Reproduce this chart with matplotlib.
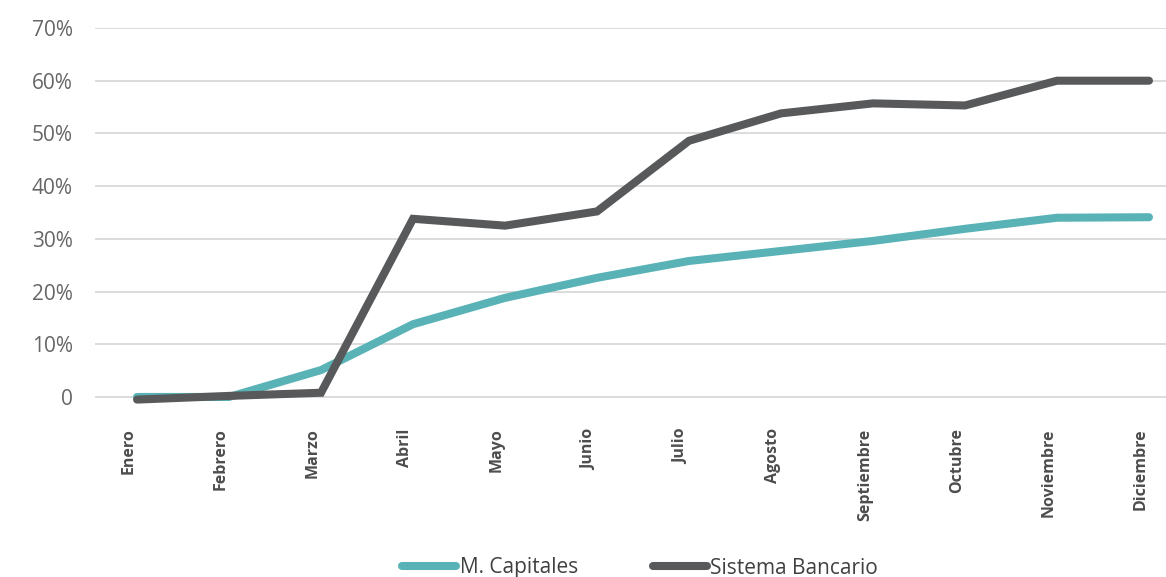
import numpy as np
import matplotlib
matplotlib.use("Agg")
import matplotlib.pyplot as plt
import matplotlib.transforms as mtransforms

plt.rcParams['font.family'] = ['Open Sans', 'DejaVu Sans']

# datos
meses = ['Enero', 'Febrero', 'Marzo', 'Abril', 'Mayo', 'Junio', 'Julio',
         'Agosto', 'Septiembre', 'Octubre', 'Noviembre', 'Diciembre']
m_capitales = [0.0, 0.0, 5.1, 13.8, 18.8, 22.6, 25.8, 27.7, 29.6, 31.9, 34.0, 34.1]
sistema_bancario = [-0.5, 0.2, 0.8, 33.8, 32.5, 35.2, 48.6, 53.8, 55.7, 55.3, 60.0, 60.0]
yticks = [0, 10, 20, 30, 40, 50, 60, 70]
ytick_labels = ['0', '10%', '20%', '30%', '40%', '50%', '60%', '70%']

teal = '#58b2b6'
gris = '#58595b'

fig = plt.figure(figsize=(11.66, 5.77), dpi=100)
ax = fig.add_axes([95 / 1166, 1 - 407.5 / 577, (1166 - 95) / 1166, (407.5 - 28) / 577])

x = np.arange(len(meses))
ax.plot(x, m_capitales, color=teal, lw=5.8, solid_capstyle='round', solid_joinstyle='miter',
        label='M. Capitales', zorder=3)
ax.plot(x, sistema_bancario, color=gris, lw=5.8, solid_capstyle='round', solid_joinstyle='miter',
        label='Sistema Bancario', zorder=4)

ax.set_xlim(-0.457, 11.185)
ax.set_ylim(-2, 70)
ax.set_yticks(yticks)
ax.set_yticklabels(ytick_labels)
ax.set_xticks(x)
ax.set_xticklabels(meses, rotation=90, fontsize=11.5, fontweight='bold', color='#4d4d4d', va='top')
ax.tick_params(axis='both', length=0)
ax.tick_params(axis='y', labelsize=15, labelcolor='#666666', pad=16)
ax.tick_params(axis='x', pad=15)

# etiquetas un poco a la izquierda como en el original
offset = mtransforms.ScaledTranslation(-8 / 100, 0, fig.dpi_scale_trans)
for lbl in ax.get_xticklabels():
    lbl.set_transform(lbl.get_transform() + offset)

ax.grid(axis='y', color='#d9d9d9', lw=1.3)
ax.set_axisbelow(True)
for s in ax.spines.values():
    s.set_visible(False)

fig.legend(loc='center', bbox_to_anchor=(640 / 1166, 1 - 568 / 577), ncol=2, frameon=False,
           fontsize=15, handlelength=2.6, handletextpad=0.15, columnspacing=3.6,
           labelcolor='#404040')

plt.savefig('out.png', dpi=100)
